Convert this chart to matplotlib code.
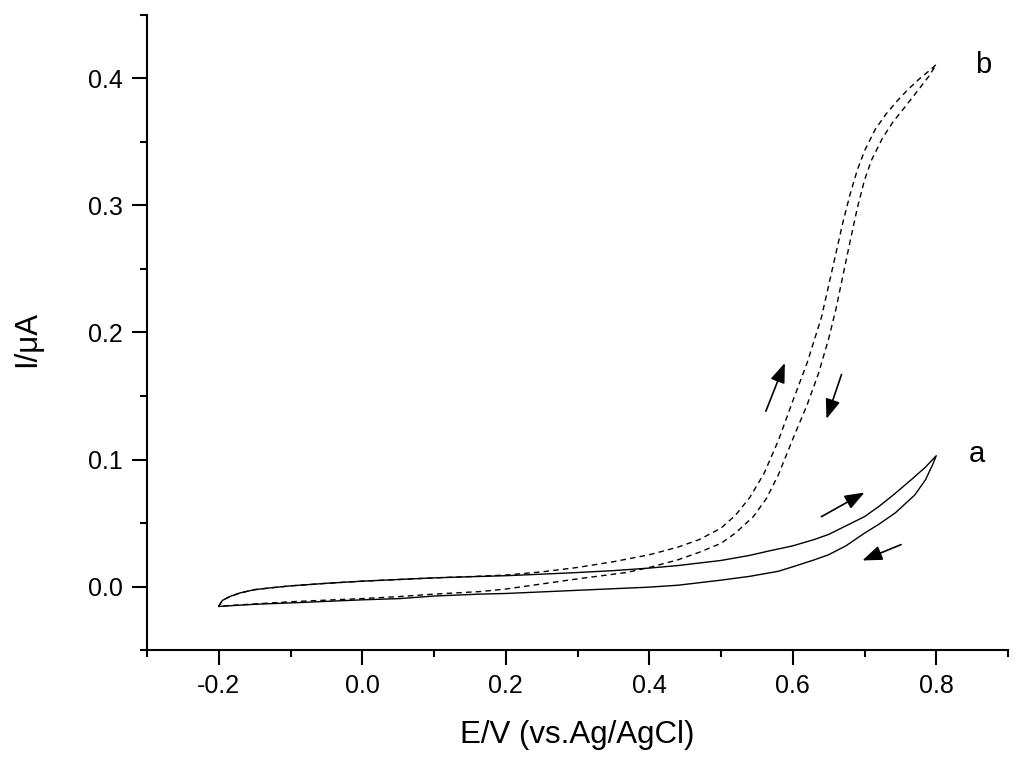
import matplotlib
matplotlib.use("Agg")
import matplotlib.pyplot as plt

plt.rcParams['font.family'] = ['Liberation Sans', 'DejaVu Sans']

# Curve a (solid): forward (upper) branch, then reverse (lower) branch
a_fwd_E = [-0.2, -0.195, -0.185, -0.17, -0.15, -0.13, -0.1, -0.05, 0.0, 0.05, 0.1, 0.15, 0.2,
           0.25, 0.3, 0.35, 0.4, 0.44, 0.5, 0.54, 0.567, 0.6, 0.63, 0.65, 0.675, 0.7, 0.72,
           0.74, 0.765, 0.785, 0.8]
a_fwd_I = [-0.0155, -0.011, -0.008, -0.005, -0.0025, -0.0012, 0.0005, 0.0025, 0.0042, 0.0055,
           0.0068, 0.0077, 0.0085, 0.0097, 0.011, 0.0125, 0.0145, 0.0165, 0.0205, 0.0245,
           0.028, 0.032, 0.037, 0.041, 0.048, 0.055, 0.063, 0.072, 0.084, 0.094, 0.103]
a_rev_E = [0.8, 0.795, 0.785, 0.77, 0.743, 0.72, 0.7, 0.674, 0.65, 0.63, 0.6, 0.58, 0.54,
           0.5, 0.44, 0.4, 0.3, 0.2, 0.164, 0.1, 0.053, 0.0, -0.086, -0.15, -0.2]
a_rev_I = [0.103, 0.096, 0.084, 0.072, 0.058, 0.049, 0.042, 0.032, 0.025, 0.021, 0.0155,
           0.012, 0.008, 0.005, 0.001, -0.0005, -0.003, -0.0055, -0.006, -0.0075, -0.0095,
           -0.0105, -0.0126, -0.014, -0.0157]

# Curve b (dashed): forward (left) branch, then reverse (right) branch
b_fwd_E = [-0.2, -0.195, -0.185, -0.17, -0.15, -0.13, -0.1, -0.05, 0.0, 0.05, 0.1, 0.15, 0.2,
           0.25, 0.3, 0.35, 0.4, 0.44, 0.47, 0.5, 0.52, 0.54, 0.56, 0.58, 0.6, 0.62, 0.64,
           0.66, 0.67, 0.68, 0.69, 0.7, 0.715, 0.73, 0.745, 0.76, 0.775, 0.79, 0.8]
b_fwd_I = [-0.0155, -0.011, -0.008, -0.005, -0.0025, -0.0012, 0.0005, 0.0025, 0.0042, 0.0055,
           0.0068, 0.0078, 0.009, 0.0115, 0.015, 0.0195, 0.025, 0.031, 0.037, 0.046, 0.056,
           0.070, 0.089, 0.115, 0.146, 0.176, 0.212, 0.262, 0.287, 0.309, 0.328, 0.343,
           0.360, 0.372, 0.382, 0.391, 0.399, 0.406, 0.411]
b_rev_E = [0.8, 0.79, 0.775, 0.757, 0.74, 0.725, 0.71, 0.7, 0.69, 0.68, 0.67, 0.66, 0.65,
           0.636, 0.62, 0.6, 0.58, 0.563, 0.545, 0.52, 0.5, 0.47, 0.44, 0.4, 0.368, 0.3,
           0.25, 0.2, 0.164, 0.1, 0.05, 0.0, -0.1, -0.2]
b_rev_I = [0.411, 0.402, 0.391, 0.378, 0.366, 0.353, 0.336, 0.320, 0.298, 0.272, 0.245,
           0.218, 0.195, 0.168, 0.143, 0.116, 0.088, 0.069, 0.055, 0.042, 0.034, 0.027,
           0.021, 0.015, 0.011, 0.006, 0.002, -0.002, -0.004, -0.006, -0.008, -0.0095,
           -0.012, -0.0155]

x_ticks = [-0.2, 0.0, 0.2, 0.4, 0.6, 0.8]
y_ticks = [0.0, 0.1, 0.2, 0.3, 0.4]

fig = plt.figure(figsize=(10.24, 7.63), dpi=100)
ax = fig.add_axes([147 / 1024, 1 - 650 / 763, (1008 - 147) / 1024, (650 - 15) / 763])

ax.plot(a_fwd_E + a_rev_E, a_fwd_I + a_rev_I, color='black', lw=1.0)
ax.plot(b_fwd_E + b_rev_E, b_fwd_I + b_rev_I, color='black', lw=1.0,
        linestyle=(0, (4, 3)))

arrow_style = dict(arrowstyle='-|>,head_length=1.2,head_width=0.45', color='black',
                   lw=1.2, mutation_scale=10, shrinkA=0, shrinkB=0)
ax.annotate('', xy=(0.589, 0.176), xytext=(0.5625, 0.138), arrowprops=arrow_style)
ax.annotate('', xy=(0.647, 0.132), xytext=(0.668, 0.167), arrowprops=arrow_style)
ax.annotate('', xy=(0.700, 0.074), xytext=(0.640, 0.055), arrowprops=arrow_style)
ax.annotate('', xy=(0.697, 0.0205), xytext=(0.751, 0.033), arrowprops=arrow_style)

ax.text(0.865, 0.411, 'b', fontsize=21, ha='center', va='center')
ax.text(0.856, 0.104, 'a', fontsize=21, ha='center', va='center')

ax.set_xlim(-0.3, 0.9)
ax.set_ylim(-0.05, 0.45)
ax.set_xticks(x_ticks)
ax.set_xticklabels(['%.1f' % v for v in x_ticks])
ax.set_yticks(y_ticks)
ax.set_yticklabels(['%.1f' % v for v in y_ticks])
ax.set_xticks([-0.3, -0.1, 0.1, 0.3, 0.5, 0.7, 0.9], minor=True)
ax.set_yticks([-0.05, 0.05, 0.15, 0.25, 0.35, 0.45], minor=True)

for s in ['top', 'right']:
    ax.spines[s].set_visible(False)
for s in ['left', 'bottom']:
    ax.spines[s].set_linewidth(1.5)

ax.tick_params(which='major', direction='out', length=10.5, width=1.5, labelsize=18, pad=7)
ax.tick_params(which='minor', direction='out', length=5, width=1.5)

ax.set_xlabel('E/V (vs.Ag/AgCl)', fontsize=22.5)
ax.set_ylabel('I/\u03bcA', fontsize=22.5)
ax.xaxis.set_label_coords((577 - 147) / (1008 - 147), -(735 - 650) / (650 - 15))
ax.yaxis.set_label_coords(-(147 - 27) / (1008 - 147), (650 - 339) / (650 - 15))
ax.xaxis.label.set_va('center')
ax.yaxis.label.set_va('center')

fig.savefig('out.png', dpi=100)
